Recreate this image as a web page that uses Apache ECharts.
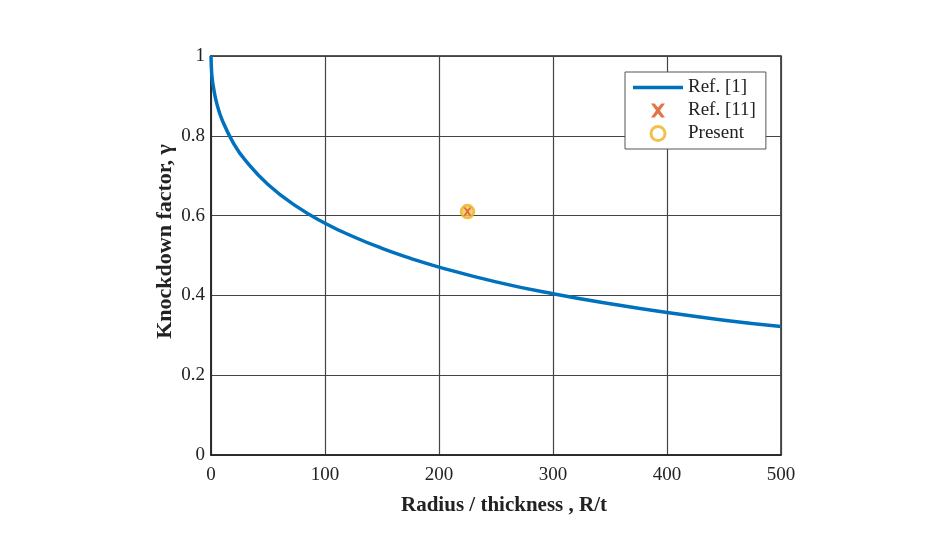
<!DOCTYPE html>
<html>
<head>
<meta charset="utf-8">
<script src="https://cdn.jsdelivr.net/npm/echarts@6/dist/echarts.min.js"></script>
<style>
  html, body { margin: 0; padding: 0; background: #fff; }
  #myChart { width: 929px; height: 548px; }
</style>
</head>
<body>
<div id="myChart"></div>
<script>
// values
var ratioRt = [0, 0.5, 1, 2, 5, 10, 20, 30, 50, 75, 100, 125, 150, 175, 200, 250, 300, 350, 400, 450, 500];
var gammaRef1 = [1.0, 0.961, 0.945, 0.924, 0.882, 0.838, 0.78, 0.739, 0.678, 0.623, 0.581, 0.547, 0.518, 0.493, 0.471, 0.434, 0.404, 0.379, 0.357, 0.338, 0.322];
var ref11Point = [225, 0.61];
var presentPoint = [225, 0.61];
var xTicks = [0, 100, 200, 300, 400, 500];
var yTicks = [0, 0.2, 0.4, 0.6, 0.8, 1];

var myChart = echarts.init(document.getElementById('myChart'));

var serif = 'Liberation Serif';
// thick "x" marker
var crossPath = 'path://M0,0L2.6,0L5,2.8L7.4,0L10,0L6.4,5L10,10L7.4,10L5,7.2L2.6,10L0,10L3.6,5Z';
var linePath = 'path://M0,0L50,0L50,3.5L0,3.5Z';

function zip(a, b) {
    var out = [];
    for (var i = 0; i < a.length; i++) out.push([a[i], b[i]]);
    return out;
}

var option = {
    animation: false,
    backgroundColor: '#fff',
    grid: {
        left: 211,
        right: 148,
        top: 56,
        bottom: 93,
        show: true,
        borderColor: '#222',
        borderWidth: 1.5
    },
    legend: {
        orient: 'vertical',
        left: 625,
        top: 72,
        padding: [6, 10, 6, 8],
        itemGap: 4,
        itemWidth: 50,
        itemHeight: 14,
        backgroundColor: '#fff',
        borderColor: '#555',
        borderWidth: 1,
        textStyle: { fontFamily: serif, fontSize: 19, color: '#222', padding: [0, 0, 0, 0] },
        data: [
            { name: 'Ref. [1]', icon: linePath },
            { name: 'Ref. [11]', icon: crossPath },
            { name: 'Present', icon: 'circle', itemStyle: { color: '#fff', borderColor: '#EDB120', borderWidth: 3 } }
        ]
    },
    xAxis: {
        type: 'value',
        min: xTicks[0],
        max: xTicks[xTicks.length - 1],
        interval: 100,
        name: 'Radius / thickness , R/t',
        nameLocation: 'middle',
        nameGap: 40,
        nameMoveOverlap: false,
        nameTextStyle: { fontFamily: serif, fontSize: 21, fontWeight: 'bold', color: '#222', padding: [0, 0, 0, 16] },
        axisLine: { lineStyle: { color: '#222', width: 1.5 } },
        axisTick: { show: false },
        axisLabel: { fontFamily: serif, fontSize: 19, color: '#222', margin: 11 },
        splitLine: { lineStyle: { color: '#444', width: 1.2 } }
    },
    yAxis: {
        type: 'value',
        min: yTicks[0],
        max: yTicks[yTicks.length - 1],
        interval: 0.2,
        name: 'Knockdown factor, \u03b3',
        nameLocation: 'middle',
        nameGap: 35,
        nameMoveOverlap: false,
        nameTextStyle: { fontFamily: serif, fontSize: 22, fontWeight: 'bold', color: '#222', padding: [0, 0, 0, 28] },
        axisLine: { lineStyle: { color: '#222', width: 1.5 } },
        axisTick: { show: false },
        axisLabel: { fontFamily: serif, fontSize: 19, color: '#222', margin: 6 },
        splitLine: { lineStyle: { color: '#444', width: 1.2 } }
    },
    series: [{
        name: 'Ref. [1]',
        type: 'line',
        data: zip(ratioRt, gammaRef1),
        smooth: true,
        symbol: 'none',
        lineStyle: { color: '#0072BD', width: 3.5 },
        itemStyle: { color: '#0072BD' }
    }, {
        name: 'Present',
        type: 'scatter',
        data: [presentPoint],
        symbol: 'circle',
        symbolSize: 13,
        itemStyle: { color: '#F2C66A', borderColor: '#EDB120', borderWidth: 2.5 }
    }, {
        name: 'Ref. [11]',
        type: 'scatter',
        data: [ref11Point],
        symbol: crossPath,
        symbolSize: 8,
        itemStyle: { color: '#D95319' }
    }]
};

myChart.setOption(option);
</script>
</body>
</html>
